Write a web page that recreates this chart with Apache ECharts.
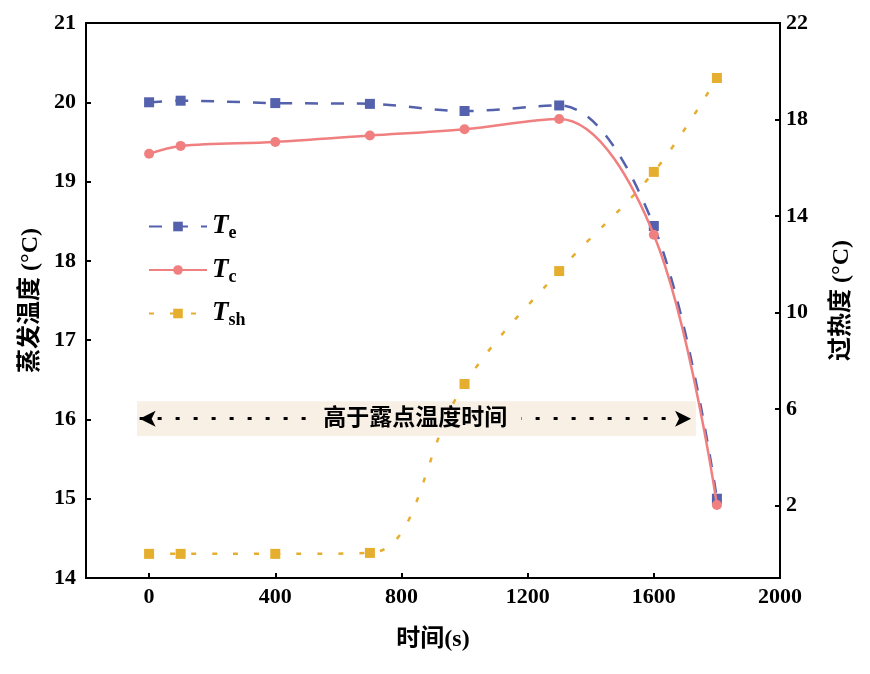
<!DOCTYPE html>
<html><head><meta charset="utf-8">
<script src="https://cdn.jsdelivr.net/npm/echarts@6/dist/echarts.min.js"></script>
<style>html,body{margin:0;padding:0;background:#fff}#c{width:870px;height:674px}</style>
</head><body><div id="c"></div>
<script>
const timeS = [0, 100, 400, 700, 1000, 1300, 1600, 1800];
const Te = [20.0, 20.02, 19.99, 19.98, 19.89, 19.96, 18.44, 15.0];
const Tc = [19.35, 19.45, 19.5, 19.58, 19.66, 19.79, 18.33, 14.92];
const Tsh = [0.0, 0.0, 0.0, 0.04, 7.04, 11.72, 15.83, 19.72];
const xTicks = [0, 400, 800, 1200, 1600, 2000];
const yRightTicks = [2, 6, 10, 14, 18, 22];
const annoX = [-38, 1733];
const annoY = [15.79, 16.23];
const annoArrowX = [-30, 1718];
const annoLineY = 16.01;
const annoText = '高于露点温度时间';

const serif = '"Liberation Serif", "Noto Sans CJK SC", serif';
const pair = (xs, ys) => xs.map((x, i) => [x, ys[i]]);
const lab = {fontFamily: serif, fontWeight: 'bold', fontSize: 22, color: '#000', formatter: v => String(v)};
const nameStyle = {fontFamily: serif, fontWeight: 'bold', fontSize: 24, color: '#000'};

const chart = echarts.init(document.getElementById('c'));
chart.setOption({
  animation: false,
  grid: {left: 86, right: 90, top: 23, bottom: 96, show: true, borderColor: '#000', borderWidth: 2, containLabel: false},
  legend: {
    orient: 'vertical', left: 143, top: 208, itemGap: 14, itemWidth: 58, itemHeight: 12,
    data: ['Te', 'Tc', 'Tsh'],
    formatter: n => '{i|T}{s|' + n.slice(1) + '}',
    textStyle: {
      rich: {
        i: {fontFamily: serif, fontStyle: 'italic', fontWeight: 'bold', fontSize: 27, color: '#000'},
        s: {fontFamily: serif, fontWeight: 'bold', fontSize: 18, color: '#000', padding: [14, 0, 0, 0]}
      }
    }
  },
  xAxis: {
    type: 'value', min: -200, max: 2000,
    name: '时间(s)', nameLocation: 'middle', nameGap: 50,
    nameTextStyle: nameStyle,
    axisLine: {onZero: false, lineStyle: {color: '#000', width: 2}},
    axisTick: {inside: true, length: 5, lineStyle: {width: 2, color: '#000'}, customValues: xTicks},
    axisLabel: Object.assign({margin: 8, customValues: xTicks}, lab),
    splitLine: {show: false}
  },
  yAxis: [{
    type: 'value', min: 14, max: 21, interval: 1,
    name: '蒸发温度 (°C)', nameLocation: 'middle', nameGap: 42, nameRotate: 90,
    nameTextStyle: nameStyle,
    axisLine: {show: true, onZero: false, lineStyle: {color: '#000', width: 2}},
    axisTick: {inside: true, length: 5, lineStyle: {width: 2, color: '#000'}},
    axisLabel: Object.assign({margin: 10}, lab),
    splitLine: {show: false}
  }, {
    type: 'value', min: -1, max: 22, position: 'right',
    name: '过热度 (°C)', nameLocation: 'middle', nameGap: 50, nameRotate: 90,
    nameTextStyle: nameStyle,
    axisLine: {show: true, onZero: false, lineStyle: {color: '#000', width: 2}},
    axisTick: {inside: true, length: 5, lineStyle: {width: 2, color: '#000'}, customValues: yRightTicks},
    axisLabel: Object.assign({margin: 6, customValues: yRightTicks}, lab),
    splitLine: {show: false}
  }],
  series: [{
    type: 'line', name: 'anno', data: [], yAxisIndex: 0, silent: true, z: 1,
    markArea: {
      silent: true,
      itemStyle: {color: '#f8efe5'},
      data: [[{coord: [annoX[0], annoY[0]]}, {coord: [annoX[1], annoY[1]]}]]
    },
    markLine: {
      silent: true, symbol: ['arrow', 'arrow'], symbolSize: [12, 16],
      lineStyle: {color: '#000', type: [4, 14], width: 3},
      label: {show: true, position: 'insideMiddle', formatter: annoText, fontFamily: serif, fontWeight: 'bold', fontSize: 23, color: '#000', backgroundColor: '#f8efe5', padding: [2, 14], distance: 0},
      data: [[{coord: [annoArrowX[0], annoLineY]}, {coord: [annoArrowX[1], annoLineY]}]]
    }
  }, {
    type: 'line', name: 'Tsh', yAxisIndex: 1, data: pair(timeS, Tsh), smooth: 0.4, z: 2,
    symbol: 'rect', symbolSize: 10, color: '#e6ae2e',
    lineStyle: {color: '#e6ae2e', width: 2.5, type: [5, 16]},
    itemStyle: {color: '#e6ae2e'}
  }, {
    type: 'line', name: 'Te', yAxisIndex: 0, data: pair(timeS, Te), smooth: 0.35, z: 3,
    symbol: 'rect', symbolSize: 10, color: '#5461ac',
    lineStyle: {color: '#5461ac', width: 2.5, type: [13, 13]},
    itemStyle: {color: '#5461ac'}
  }, {
    type: 'line', name: 'Tc', yAxisIndex: 0, data: pair(timeS, Tc), smooth: 0.35, z: 4,
    symbol: 'circle', symbolSize: 10, color: '#f07f80',
    lineStyle: {color: '#f07f80', width: 2.5},
    itemStyle: {color: '#f07f80'}
  }]
});
</script></body></html>
